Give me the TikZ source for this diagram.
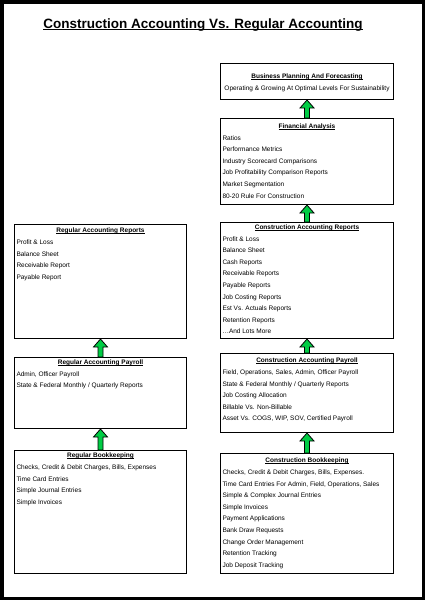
\documentclass[tikz,border=0pt]{standalone}
\usepackage{fontspec}
\setmainfont{Liberation Sans}
\usetikzlibrary{calc}
\definecolor{arrgreen}{RGB}{0,204,68}
\newcommand{\ulrule}[3]{\setbox0\hbox{#1}\rlap{\rule[-#2]{\wd0}{#3}}\box0}
\newcommand{\bxbody}[5]{\parbox[t][#1][t]{#2}{\fontsize{6.5}{11.6}\selectfont\vspace*{#3}\centering\strut\ulrule{\bfseries #4}{1.1pt}{0.55pt}\par\raggedright #5\par}}
\newcommand{\uparr}[2]{%
  \draw[arr] let \p1=(#1.north), \p2=(#2.south) in
    (\x1-2.5pt,\y1) -- (\x1-2.5pt,\y2-8pt) -- (\x1-7pt,\y2-8pt) -- (\x1,\y2)
    -- (\x1+7pt,\y2-8pt) -- (\x1+2.5pt,\y2-8pt) -- (\x1+2.5pt,\y1) -- cycle;}
\begin{document}
\begin{tikzpicture}[x=1pt,y=-1pt,
  box/.style={draw=black, line width=1pt, fill=white, inner xsep=2pt, inner ysep=0pt, anchor=north west},
  arr/.style={draw=black, line width=0.8pt, fill=arrgreen, line join=miter},
  titlestyle/.style={font=\fontsize{13.5}{15}\selectfont\bfseries, inner sep=0pt, anchor=base}]
\useasboundingbox (0,0) rectangle (425,600);
\fill[white] (0,0) rectangle (425,600);
\draw[line width=3.5pt] (1.75,1.75) rectangle (423.25,598.25);
\node[titlestyle] (title) at (203,28.3) {\ulrule{Construction Accounting Vs. Regular Accounting}{1.8pt}{1pt}};

% right column
\node[box] (biz) at (220,63) {\bxbody{36pt}{169pt}{6.9pt}{Business Planning And Forecasting}{\centering Operating \& Growing At Optimal Levels For Sustainability}};
\node[box] (fin) at (220,118) {\bxbody{86pt}{169pt}{1.9pt}{Financial Analysis}{Ratios\\Performance Metrics\\Industry Scorecard Comparisons\\Job Profitability Comparison Reports\\Market Segmentation\\80-20 Rule For Construction}};
\node[box] (cr) at (220,222) {\bxbody{116pt}{169pt}{-1.1pt}{Construction Accounting Reports}{Profit \& Loss\\Balance Sheet\\Cash Reports\\Receivable Reports\\Payable Reports\\Job Costing Reports\\Est Vs. Actuals Reports\\Retention Reports\\\ldots And Lots More}};
\node[box] (cp) at (220,353) {\bxbody{79pt}{169pt}{1.2pt}{Construction Accounting Payroll}{Field, Operations, Sales, Admin, Officer Payroll\\State \& Federal Monthly / Quarterly Reports\\Job Costing Allocation\\Billable Vs. Non-Billable\\Asset Vs. COGS, WIP, SOV, Certified Payroll}};
\node[box] (cb) at (220,453) {\bxbody{120pt}{169pt}{1.2pt}{Construction Bookkeeping}{Checks, Credit \& Debit Charges, Bills, Expenses.\\Time Card Entries For Admin, Field, Operations, Sales\\Simple \& Complex Journal Entries\\Simple Invoices\\Payment Applications\\Bank Draw Requests\\Change Order Management\\Retention Tracking\\Job Deposit Tracking}};

% left column
\node[box] (rr) at (14,224) {\bxbody{114pt}{168pt}{0.2pt}{Regular Accounting Reports}{Profit \& Loss\\Balance Sheet\\Receivable Report\\Payable Report}};
\node[box] (rp) at (14,357) {\bxbody{71pt}{168pt}{-1.1pt}{Regular Accounting Payroll}{Admin, Officer Payroll\\State \& Federal Monthly / Quarterly Reports}};
\node[box] (rb) at (14,450) {\bxbody{123pt}{168pt}{-0.8pt}{Regular Bookkeeping}{Checks, Credit \& Debit Charges, Bills, Expenses\\Time Card Entries\\Simple Journal Entries\\Simple Invoices}};

% arrows
\uparr{fin}{biz}
\uparr{cr}{fin}
\uparr{cp}{cr}
\uparr{cb}{cp}
\uparr{rp}{rr}
\uparr{rb}{rp}
\end{tikzpicture}
\end{document}
